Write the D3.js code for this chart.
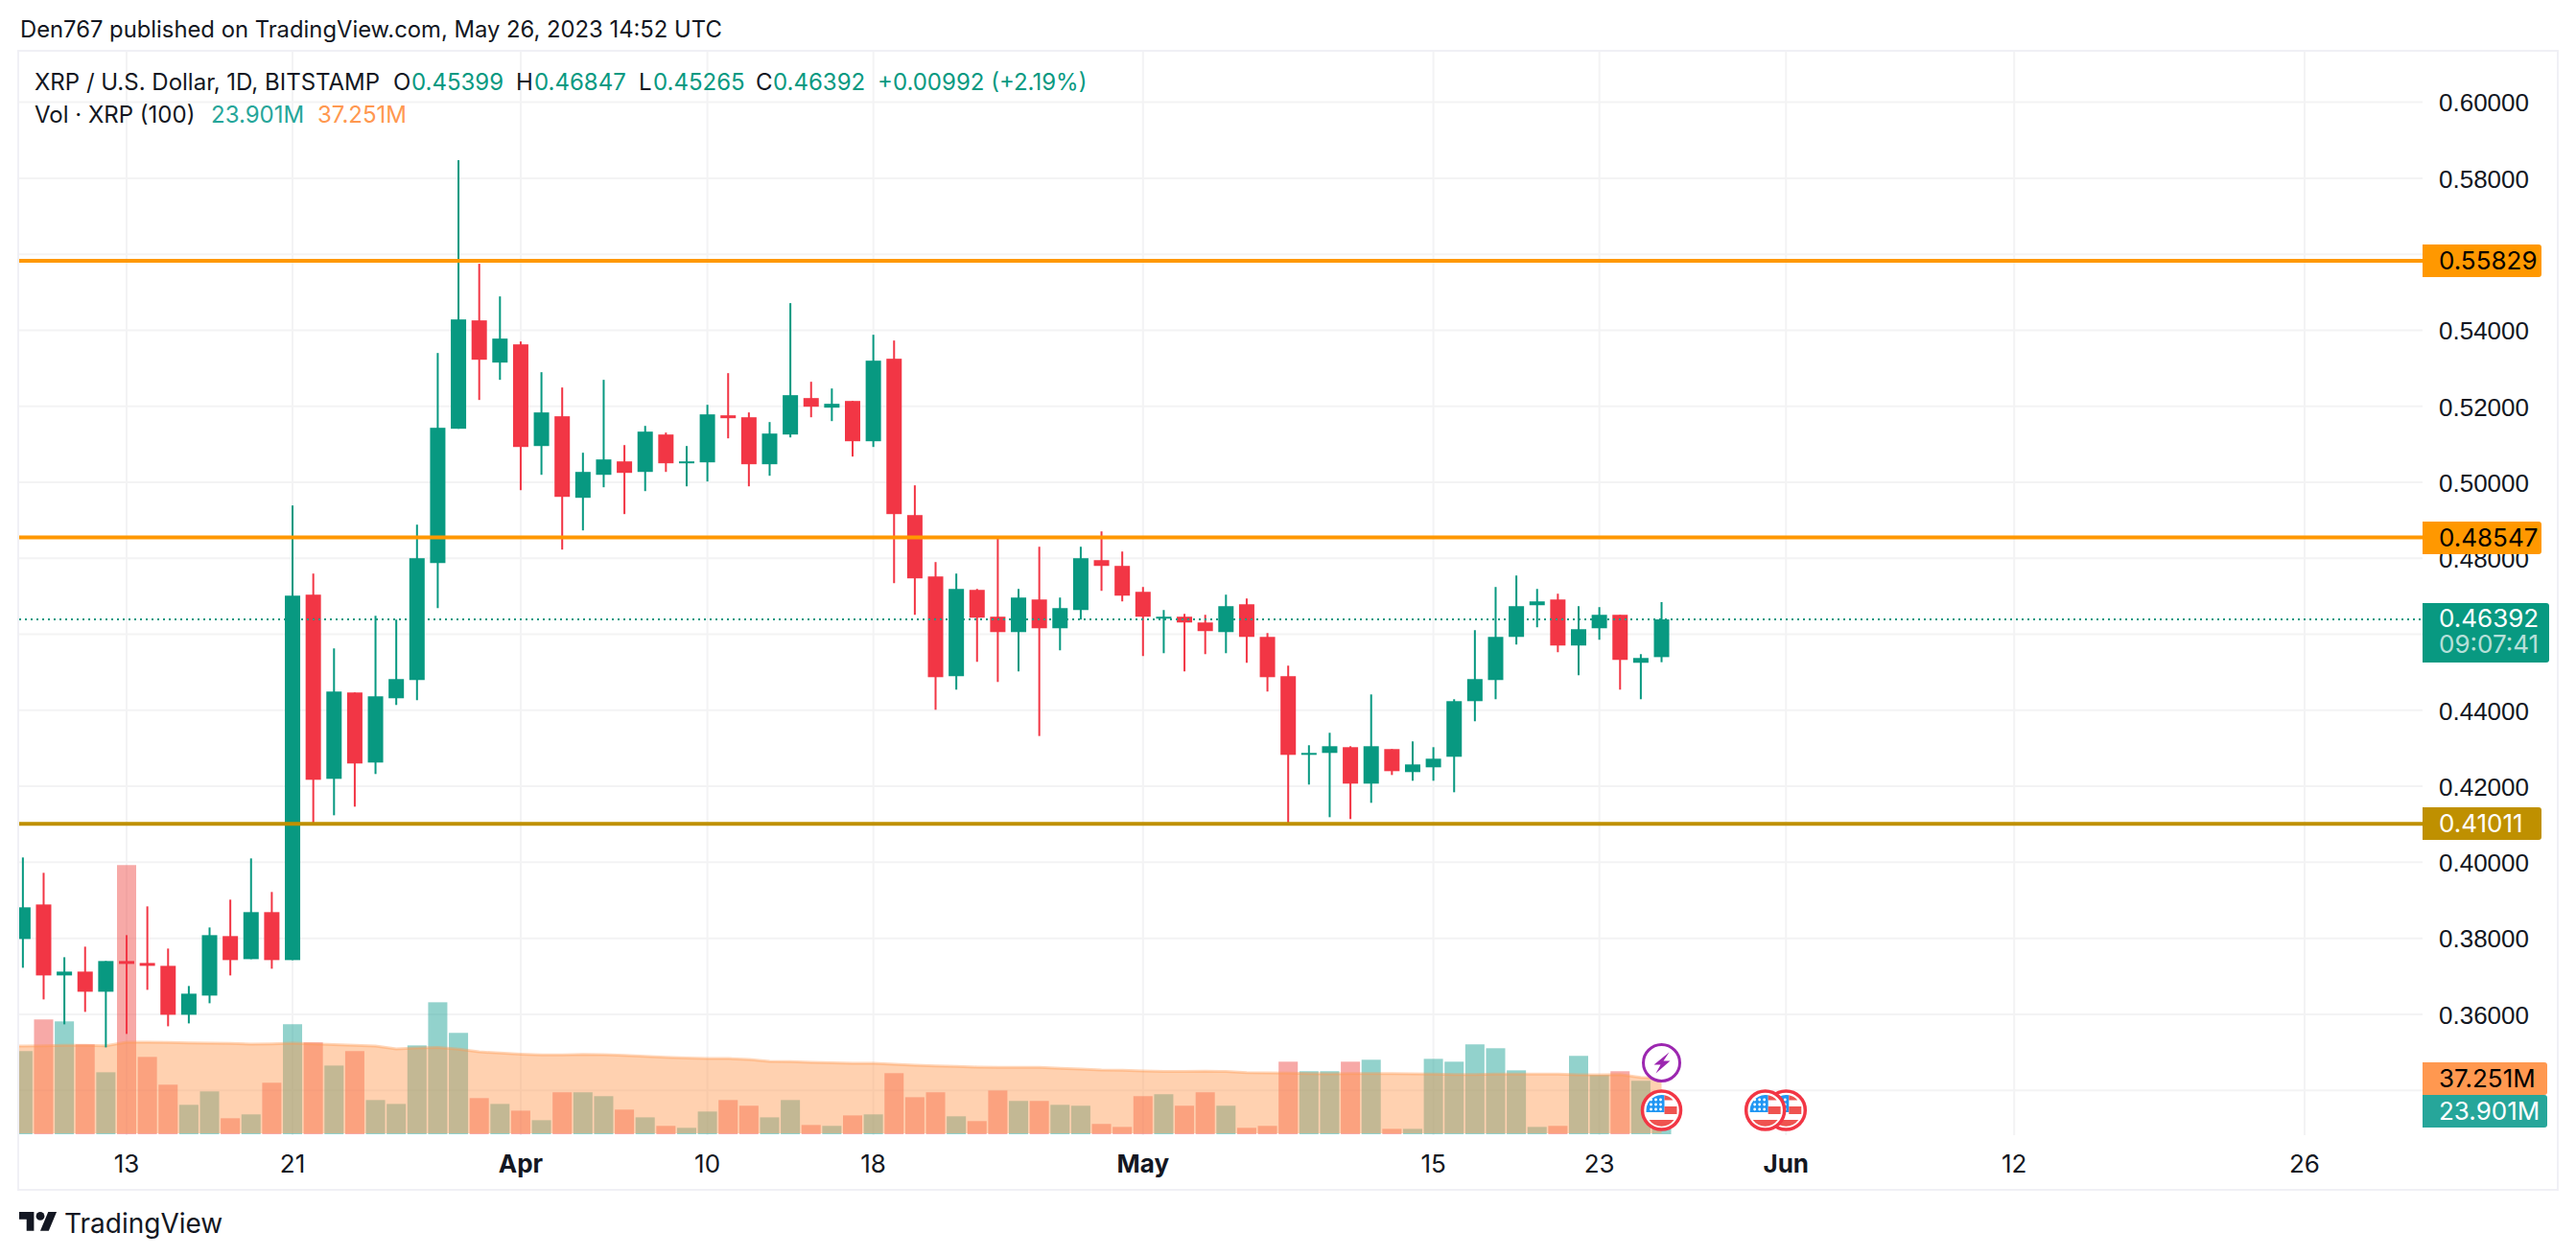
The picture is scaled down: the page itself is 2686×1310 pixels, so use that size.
<!DOCTYPE html>
<html>
<head>
<meta charset="utf-8">
<title>XRP / U.S. Dollar, 1D, BITSTAMP</title>
<script src="https://cdnjs.cloudflare.com/ajax/libs/d3/7.8.5/d3.min.js"></script>
<style>
  html, body { margin: 0; padding: 0; background: #fff; }
  svg { display: block; font-family: Inter, "Open Sans", sans-serif; }
  text { fill: #131722; }
</style>
</head>
<body>
<svg id="chart" width="2686" height="1310"></svg>
<script>
// daily bars, Mar 8 to May 26 2023
const firstDay = "2023-03-08";
const opens = [
  .37982,.38890,.37023,.37124,.36594,.37402,.37351,.37275,.35988,.36493,.38058,.37452,.38689,.37427,.47042,.42196,.44468,.42625,.44316,.44796,.47874,.51408,.54259,.53149,
  .53628,.50953,.51736,.49591,.50196,.50549,.50272,.51256,.50499,.50524,.51761,.51710,.50474,.51256,.52215,.51963,.52139,.51079,.53250,.49136,.47521,.44897,.47168,.46462,.46057,.46915,.46158,.46638,.47950,.47799,
  .47117,.46411,.46462,.46310,.46057,.46789,.45931,.44897,.42827,.42878,.43029,.42070,.42979,.42373,.42499,.42777,.44240,.44796,.45931,.46764,.46915,.45704,.46158,.46512,.45250,.45399];
const highs = [
  .40127,.39723,.37502,.37780,.37402,.38083,.38840,.37730,.36745,.38285,.39017,.40102,.39219,.49389,.47597,.45628,.44468,.46486,.46386,.48884,.53401,.58474,.55748,.54890,
  .53704,.52896,.52493,.50777,.52695,.50978,.51483,.51307,.50953,.52038,.52871,.51837,.51584,.54713,.52644,.52467,.52139,.53881,.53729,.49919,.47900,.47597,.47193,.48531,.47193,.48303,.46966,.48303,.48707,.48177,
  .47244,.46638,.46537,.46512,.47042,.46941,.46032,.45174,.43080,.43408,.43054,.44417,.42979,.43181,.43029,.44291,.46108,.47244,.47546,.47193,.47067,.46739,.46714,.46512,.45477,.46847];
const lows = [
  .37225,.36392,.35736,.36064,.35130,.35484,.36644,.35685,.35761,.36291,.37023,.37452,.37200,.37427,.41010,.41237,.41464,.42323,.44140,.44266,.46688,.51408,.52165,.52695,
  .49792,.50196,.48228,.48733,.49868,.49162,.49767,.50272,.49893,.50020,.51155,.49893,.50171,.51180,.51710,.51609,.50676,.50928,.47345,.46512,.44013,.44543,.45275,.44745,.45023,.43323,.45578,.46386,.47143,.46865,
  .45427,.45502,.45023,.45477,.45502,.45250,.44493,.41000,.42045,.41187,.41137,.41565,.42297,.42146,.42146,.41843,.43711,.44291,.45730,.46184,.45528,.44922,.45856,.44543,.44291,.45265];
const closes = [
  .38815,.37023,.37124,.36594,.37402,.37326,.37275,.35988,.36543,.38083,.37427,.38689,.37427,.47016,.42171,.44493,.42600,.44367,.44821,.48001,.51433,.54284,.53224,.53780,
  .50928,.51837,.49616,.50272,.50600,.50247,.51332,.50499,.50549,.51786,.51685,.50474,.51281,.52291,.51988,.52064,.51079,.53199,.49162,.47471,.44871,.47193,.46436,.46057,.46966,.46158,.46688,.48001,.47799,.47016,
  .46462,.46462,.46310,.46083,.46739,.45931,.44871,.42827,.42878,.43054,.42070,.43054,.42398,.42575,.42726,.44240,.44821,.45931,.46739,.46865,.45704,.46133,.46512,.45326,.45376,.46392];
// volume in millions
const volumes = [
  55.7,76.9,75.6,60.2,41.5,180.3,51.8,33.2,19.7,28.7,10.7,13.3,34.5,73.7,61.5,46.0,55.7,22.9,20.3,59.5,88.4,67.9,24.2,20.3,
  15.8,9.4,28.1,28.1,25.5,16.5,11.3,5.6,4.3,15.2,22.9,19.1,11.3,22.9,6.2,5.6,12.6,13.3,40.9,24.8,28.1,12.0,8.8,29.3,22.3,22.3,19.7,19.1,6.9,4.9,
  25.5,26.8,19.1,28.1,19.1,4.3,5.6,48.6,42.2,42.2,48.6,49.9,3.6,3.6,50.5,48.6,60.2,57.6,42.8,4.9,5.6,52.5,39.6,42.2,35.8,23.901];
// volume SMA, starts one day earlier so the area reaches the left edge
const volumeSma = [
  59.0,59.1,59.3,59.5,59.5,59.3,61.7,61.7,61.5,61.2,61.0,60.8,60.4,60.6,61.0,60.6,60.0,59.5,59.1,57.2,57.8,58.2,57.0,55.2,54.4,
  53.7,53.1,53.1,53.5,53.3,52.9,52.2,51.6,51.0,50.7,50.7,50.1,48.8,48.6,48.2,47.8,47.5,47.5,46.9,46.3,45.8,45.4,45.0,44.8,44.8,44.8,44.1,43.7,43.0,42.8,
  42.4,42.0,42.0,42.2,42.0,41.3,41.1,40.9,40.7,40.5,40.7,40.7,40.7,40.5,40.3,40.0,40.0,40.3,40.3,40.3,40.3,39.8,39.8,40.0,38.1,37.251];
// price axis
const gridPrices = [.60,.58,.56,.54,.52,.50,.48,.46,.44,.42,.40,.38,.36,.34];
const shownPriceTicks = [.60,.58,.54,.52,.50,.48,.44,.42,.40,.38,.36];
// time axis
const timeTicks = ["2023-03-13","2023-03-21","2023-04-01","2023-04-10","2023-04-18","2023-05-01","2023-05-15","2023-05-23","2023-06-01","2023-06-12","2023-06-26"];
const timeLabels = ["13","21","Apr","10","18","May","15","23","Jun","12","26"];
const boldLabels = ["Apr","May","Jun"];
// horizontal levels
const levelPrices = [.55829,.48547,.41011];
const levelLabels = ["0.55829","0.48547","0.41011"];
const levelColors = ["#ff9800","#ff9800","#bf9000"];
const levelTextColors = ["#000","#000","#fff"];
const lastPrice = .46392;
// event markers
const flagDays = ["2023-06-01","2023-05-31","2023-05-26"];

const green = "#089981", red = "#f23645";
const gridColor = "#f3f3f4", borderColor = "#f0f0f5";

const plotLeft = 20, plotRight = 2526, paneRight = 2666, plotTop = 54, plotBottom = 1184, frameBottom = 1240;

const parseDay = d3.utcParse("%Y-%m-%d");
const days = d3.utcDay.range(parseDay(firstDay), d3.utcDay.offset(parseDay(firstDay), closes.length));
const smaDays = d3.utcDay.range(d3.utcDay.offset(parseDay(firstDay), -1), d3.utcDay.offset(parseDay(firstDay), closes.length));

const x = d3.scaleUtc().domain([parseDay("2023-03-13"), parseDay("2023-06-26")]).range([132, 2403]);
const y = d3.scaleLinear().domain([.60, .34]).range([106.6, 1137.2]);
const yVol = d3.scaleLinear().domain([0, 100]).range([1183, 1183 - 155.7]);

const svg = d3.select("#chart");
svg.append("defs").append("clipPath").attr("id", "plot")
  .append("rect").attr("x", plotLeft).attr("y", plotTop).attr("width", plotRight - plotLeft).attr("height", plotBottom - plotTop);

// header
svg.append("text").attr("x", 21).attr("y", 32).attr("dominant-baseline", "middle")
  .style("font-size", "23.8px").text("Den767 published on TradingView.com, May 26, 2023 14:52 UTC");

// frame
svg.append("rect").attr("x", plotLeft - 1).attr("y", plotTop - 1).attr("width", paneRight - plotLeft + 2).attr("height", frameBottom - plotTop + 2)
  .attr("fill", "none").attr("stroke", borderColor).attr("stroke-width", 2);

// grid
svg.append("g").selectAll("line").data(gridPrices).join("line")
  .attr("x1", plotLeft).attr("x2", plotRight).attr("y1", d => y(d)).attr("y2", d => y(d))
  .attr("stroke", gridColor).attr("stroke-width", 2);
svg.append("g").selectAll("line").data(timeTicks).join("line")
  .attr("x1", d => x(parseDay(d))).attr("x2", d => x(parseDay(d))).attr("y1", plotTop).attr("y2", plotBottom)
  .attr("stroke", gridColor).attr("stroke-width", 2);

const plot = svg.append("g").attr("clip-path", "url(#plot)");

// volume bars
plot.append("g").selectAll("rect").data(days).join("rect")
  .attr("x", d => x(d) - 10)
  .attr("width", 20)
  .attr("y", (d, i) => yVol(volumes[i]))
  .attr("height", (d, i) => yVol(0) - yVol(volumes[i]))
  .attr("fill", (d, i) => closes[i] >= opens[i] ? "rgba(38,166,154,.5)" : "rgba(239,83,80,.5)");

// volume SMA area
const smaArea = d3.area().x((d, i) => x(smaDays[i])).y0(yVol(0) - 1).y1(d => yVol(d));
const smaLine = d3.line().x((d, i) => x(smaDays[i])).y(d => yVol(d));
plot.append("path").attr("d", smaArea(volumeSma)).attr("fill", "rgba(255,152,80,.45)");
plot.append("path").attr("d", smaLine(volumeSma)).attr("fill", "none").attr("stroke", "rgba(255,152,80,.4)").attr("stroke-width", 3);

// candles
const candles = plot.append("g").selectAll("g").data(days).join("g")
  .attr("fill", (d, i) => closes[i] >= opens[i] ? green : red);
candles.append("rect")
  .attr("x", d => x(d) - 1).attr("width", 2)
  .attr("y", (d, i) => y(highs[i]))
  .attr("height", (d, i) => y(lows[i]) - y(highs[i]));
candles.append("rect")
  .attr("x", d => x(d) - 8).attr("width", 16)
  .attr("y", (d, i) => y(Math.max(opens[i], closes[i])))
  .attr("height", (d, i) => Math.max(2, Math.abs(y(opens[i]) - y(closes[i]))));

// levels and last price line
plot.append("g").selectAll("line").data(levelPrices).join("line")
  .attr("x1", plotLeft).attr("x2", plotRight).attr("y1", d => y(d)).attr("y2", d => y(d))
  .attr("stroke", (d, i) => levelColors[i]).attr("stroke-width", 4);
plot.append("line").attr("x1", plotLeft).attr("x2", plotRight).attr("y1", y(lastPrice)).attr("y2", y(lastPrice))
  .attr("stroke", green).attr("stroke-width", 2).attr("stroke-dasharray", "2 4");

// markers
const usFlag = (g) => {
  g.append("circle").attr("r", 20).attr("fill", "#fff").attr("stroke", "#f23645").attr("stroke-width", 3.5);
  g.append("path").attr("d", "M-16,2 L-15.9,-1 A16,16 0 0 1 3,-15.7 L3,2 Z").attr("fill", "#2196f3");
  g.append("path").attr("d", "M3,-15.7 A16,16 0 0 1 12,-10.5 L3,-10.5 Z").attr("fill", "#ef5350");
  g.append("rect").attr("x", 3).attr("y", -4).attr("width", 13).attr("height", 8).attr("fill", "#ef5350");
  g.append("path").attr("d", "M-13,10 L13,10 A16,16 0 0 1 -13,10 Z").attr("fill", "#ef5350");
  for (const cy of [-11, -6, -1]) {
    for (const cx of [-11, -6, -1]) {
      g.append("circle").attr("cx", cx).attr("cy", cy).attr("r", 1.4).attr("fill", "#fff");
    }
  }
};
flagDays.forEach(d => {
  svg.append("g").attr("transform", `translate(${x(parseDay(d))},1158)`).call(usFlag);
});
const bolt = svg.append("g").attr("transform", `translate(${x(parseDay("2023-05-26"))},1108.5)`);
bolt.append("circle").attr("r", 19).attr("fill", "#fff").attr("stroke", "#9c27b0").attr("stroke-width", 3);
bolt.append("path").attr("d", "M8,-11 L-8,2 L-1,2 L-6,11 L9,-2 L2,-2 Z").attr("fill", "#9c27b0");

// price axis labels
const priceAxis = d3.axisRight(y).tickValues(shownPriceTicks).tickFormat(d3.format(".5f")).tickSize(0).tickPadding(0);
const axisG = svg.append("g").attr("transform", "translate(2543,1)").call(priceAxis);
axisG.select(".domain").remove();
axisG.selectAll("text").style("font-size", "26px").attr("fill", "#131722");

// value tags
const tag = (yTop, yBottom, tagRight, color) => svg.append("path")
  .attr("d", `M${plotRight},${yTop} H${tagRight - 3} Q${tagRight},${yTop} ${tagRight},${yTop + 3} V${yBottom - 3} Q${tagRight},${yBottom} ${tagRight - 3},${yBottom} H${plotRight} Z`)
  .attr("fill", color);
const tagText = (yMid, label, color, op) => svg.append("text").attr("x", 2543).attr("y", yMid)
  .attr("dominant-baseline", "middle").style("font-size", "26px").style("fill", color).style("opacity", op || 1).text(label);

levelPrices.forEach((p, i) => {
  tag(Math.round(y(p)) - 17, Math.round(y(p)) + 17, 2650, levelColors[i]);
  tagText(y(p) + 2, levelLabels[i], levelTextColors[i]);
});
tag(629, 691, 2658, green);
tagText(647, "0.46392", "#fff");
tagText(674, "09:07:41", "#fff", .7);
tag(1108, 1142, 2656, "#ff9850");
tagText(1127, "37.251M", "#000");
tag(1142, 1176, 2656, "#26a69a");
tagText(1161, "23.901M", "#fff");

// time axis labels
svg.append("g").selectAll("text").data(timeTicks).join("text")
  .attr("x", d => x(parseDay(d))).attr("y", 1216).attr("text-anchor", "middle").attr("dominant-baseline", "middle")
  .style("font-size", "26px")
  .style("font-weight", (d, i) => boldLabels.includes(timeLabels[i]) ? 700 : 400)
  .text((d, i) => timeLabels[i]);

// legend
const legendRow1 = [
  [36, "XRP / U.S. Dollar, 1D, BITSTAMP", "#131722"],
  [410, "O", "#131722"], [429, "0.45399", green],
  [538, "H", "#131722"], [557, "0.46847", green],
  [666, "L", "#131722"], [681, "0.45265", green],
  [788, "C", "#131722"], [806, "0.46392", green],
  [915, "+0.00992 (+2.19%)", green]
];
const legendRow2 = [
  [36, "Vol · XRP (100)", "#131722"],
  [220, "23.901M", "#26a69a"],
  [331, "37.251M", "#ff9850"]
];
[[87.5, legendRow1], [121.5, legendRow2]].forEach(([rowY, items]) => {
  items.forEach(([lx, label, color]) => {
    svg.append("text").attr("x", lx).attr("y", rowY).attr("dominant-baseline", "middle")
      .style("font-size", "24px").style("fill", color).text(label);
  });
});

// logo
const logo = svg.append("g").attr("transform", "translate(20,1259.6) scale(1.1)").attr("fill", "#131722");
logo.append("path").attr("d", "M14 22H7V11H0V4h14v18zM28 22h-8l7.5-18h8L28 22z");
logo.append("circle").attr("cx", 20).attr("cy", 8).attr("r", 4);
svg.append("text").attr("x", 67).attr("y", 1278).attr("dominant-baseline", "middle")
  .style("font-size", "28px").style("font-weight", 400).text("TradingView");
</script>
</body>
</html>
